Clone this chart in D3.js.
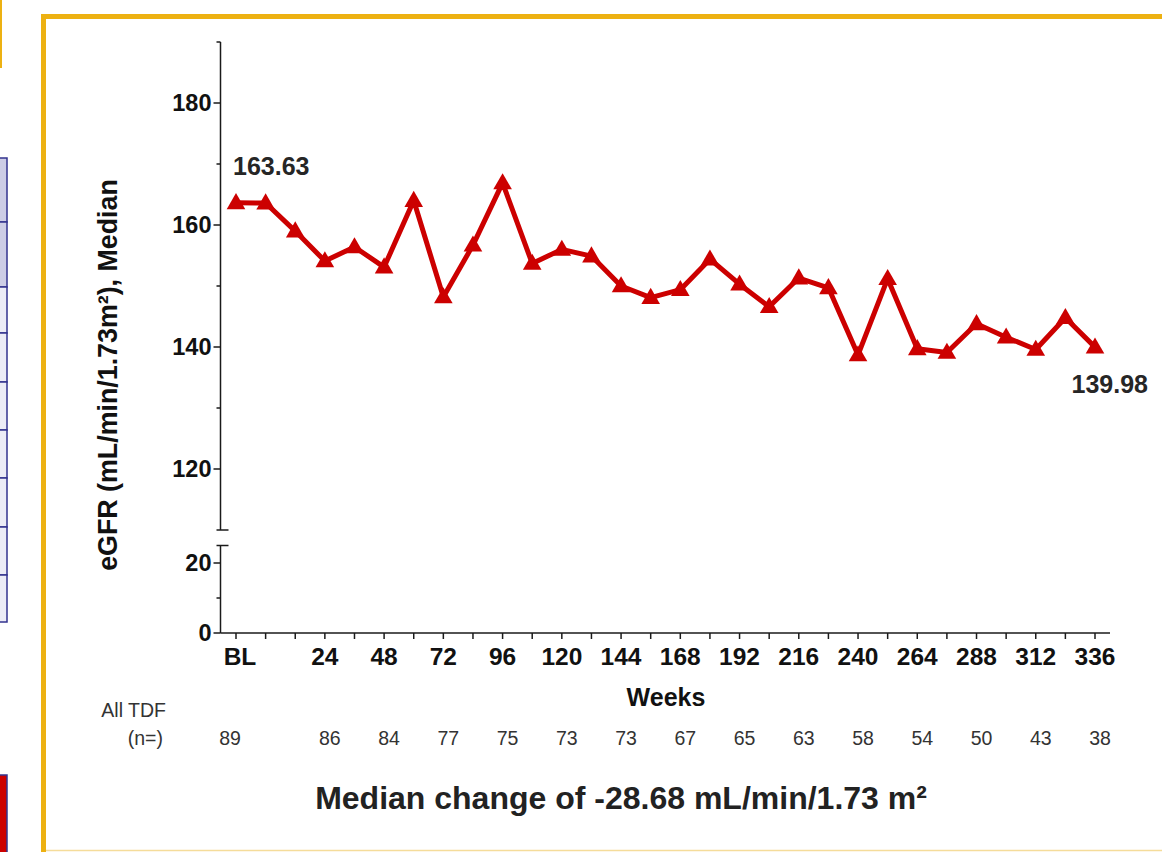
<!DOCTYPE html>
<html>
<head>
<meta charset="utf-8">
<script src="https://cdn.jsdelivr.net/npm/d3@7"></script>
<style>
  html, body { margin: 0; padding: 0; background: #ffffff; }
  svg { display: block; font-family: "Liberation Sans", Arial, Helvetica, sans-serif; }
</style>
</head>
<body>
<svg id="chart" width="1162" height="852"></svg>
<script>
// ---------------- data ----------------
const weeks = ["BL", "0", "12", "24", "36", "48", "60", "72", "84", "96", "108", "120", "132", "144", "156",
               "168", "180", "192", "204", "216", "228", "240", "252", "264", "276", "288", "300", "312", "324", "336"];
const egfrMedian = [163.63, 163.6, 159.0, 154.1, 156.4, 153.1, 164.0, 148.2, 156.7, 166.9, 153.7, 156.0, 154.9, 150.0, 148.1,
                    149.4, 154.4, 150.3, 146.6, 151.3, 149.7, 138.7, 151.2, 139.7, 139.1, 143.8, 141.6, 139.6, 144.8, 139.98];
const xTickLabels = ["BL", "24", "48", "72", "96", "120", "144", "168", "192", "216", "240", "264", "288", "312", "336"];
const nWeeks = ["BL", "24", "48", "72", "96", "120", "144", "168", "192", "216", "240", "264", "288", "312", "336"];
const nValues = [89, 86, 84, 77, 75, 73, 73, 67, 65, 63, 58, 54, 50, 43, 38];
const yTicksUpper = [120, 140, 160, 180];
const yMinorUpper = [130, 150, 170, 190];
const yTicksLower = [0, 20];
const yMinorLower = [10];

// ---------------- layout ----------------
const svg = d3.select("#chart");
const gold = "#EDB112";
const navy = "#33338F";
const red = "#CC0000";
const axisColor = "#1a1a1a";

// left decorations (cropped slide content)
svg.append("line").attr("x1", 1).attr("x2", 1).attr("y1", 0).attr("y2", 68)
  .attr("stroke", gold).attr("stroke-width", 2);
const rowEdges = [158, 222, 287, 333, 382, 430, 478, 527, 575, 622];
for (let i = 0; i < rowEdges.length - 1; i++) {
  svg.append("rect").attr("x", -2).attr("y", rowEdges[i]).attr("width", 9).attr("height", rowEdges[i + 1] - rowEdges[i])
    .attr("fill", i < 2 ? "#CDCDE6" : "#ECECF6").attr("stroke", navy).attr("stroke-width", 1.5);
}
svg.append("rect").attr("x", -2).attr("y", 775).attr("width", 9).attr("height", 90)
  .attr("fill", red).attr("stroke", navy).attr("stroke-width", 1.5);

// gold frame
svg.append("path").attr("d", "M43.5,852 V16.5 H1162").attr("fill", "none")
  .attr("stroke", gold).attr("stroke-width", 5);
svg.append("line").attr("x1", 46).attr("x2", 1162).attr("y1", 850.5).attr("y2", 850.5)
  .attr("stroke", "#F5DC9A").attr("stroke-width", 1.5);

// scales
const x = d3.scalePoint().domain(weeks).range([236, 1095]);
const yTop = d3.scaleLinear().domain([110, 190]).range([530, 42]);
const yBot = d3.scaleLinear().domain([0, 25]).range([633, 545.5]);
const axisX = 220.5;

const g = svg.append("g");

// y axis segments
g.append("line").attr("x1", axisX).attr("x2", axisX).attr("y1", yTop(190)).attr("y2", yTop(110))
  .attr("stroke", axisColor).attr("stroke-width", 1.5);
g.append("line").attr("x1", axisX).attr("x2", axisX).attr("y1", yBot(25)).attr("y2", yBot(0))
  .attr("stroke", axisColor).attr("stroke-width", 1.5);
// break marks
[yTop(110), yBot(25)].forEach(yy => {
  g.append("line").attr("x1", axisX - 4).attr("x2", axisX + 8).attr("y1", yy).attr("y2", yy)
    .attr("stroke", axisColor).attr("stroke-width", 1.5);
});

function yTicks(scale, majors, minors) {
  majors.forEach(v => {
    g.append("line").attr("x1", axisX - 7).attr("x2", axisX).attr("y1", scale(v)).attr("y2", scale(v))
      .attr("stroke", axisColor).attr("stroke-width", 1.5);
    g.append("text").attr("x", axisX - 9).attr("y", scale(v)).attr("dy", "0.36em")
      .attr("text-anchor", "end").attr("font-size", 23.5).attr("font-weight", "bold").attr("fill", "#111")
      .text(v);
  });
  minors.forEach(v => {
    g.append("line").attr("x1", axisX - 4).attr("x2", axisX).attr("y1", scale(v)).attr("y2", scale(v))
      .attr("stroke", axisColor).attr("stroke-width", 1.5);
  });
}
yTicks(yTop, yTicksUpper, yMinorUpper);
yTicks(yBot, yTicksLower, yMinorLower);

// x axis
const xAxisY = yBot(0);
g.append("line").attr("x1", axisX).attr("x2", 1110).attr("y1", xAxisY).attr("y2", xAxisY)
  .attr("stroke", axisColor).attr("stroke-width", 1.5);
weeks.forEach(w => {
  g.append("line").attr("x1", x(w)).attr("x2", x(w)).attr("y1", xAxisY).attr("y2", xAxisY + 6)
    .attr("stroke", axisColor).attr("stroke-width", 1.5);
});
xTickLabels.forEach(w => {
  g.append("text").attr("x", x(w) + (w === "BL" ? 4 : 0)).attr("y", xAxisY + 32)
    .attr("text-anchor", "middle").attr("font-size", 24.5).attr("font-weight", "bold").attr("fill", "#111")
    .text(w);
});

// axis titles
g.append("text").attr("x", 666).attr("y", 706).attr("text-anchor", "middle")
  .attr("font-size", 25).attr("font-weight", "bold").attr("fill", "#111").text("Weeks");
g.append("text").attr("transform", "translate(117,375) rotate(-90)").attr("text-anchor", "middle")
  .attr("font-size", 26.8).attr("font-weight", "bold").attr("fill", "#111").text("eGFR (mL/min/1.73m²), Median");

// line + markers
const line = d3.line().x((d, i) => x(weeks[i])).y(d => yTop(d));
g.append("path").datum(egfrMedian).attr("d", line).attr("fill", "none")
  .attr("stroke", red).attr("stroke-width", 5).attr("stroke-linejoin", "round");
g.selectAll("path.marker").data(egfrMedian).enter().append("path").attr("class", "marker")
  .attr("d", d3.symbol().type(d3.symbolTriangle).size(150))
  .attr("transform", (d, i) => `translate(${x(weeks[i])},${yTop(d) + 1})`)
  .attr("fill", red);

// value annotations
g.append("text").attr("x", 233).attr("y", 175).attr("font-size", 25).attr("font-weight", "bold")
  .attr("fill", "#262626").text(egfrMedian[0].toFixed(2));
g.append("text").attr("x", 1148).attr("y", 393).attr("text-anchor", "end").attr("font-size", 25).attr("font-weight", "bold")
  .attr("fill", "#262626").text(egfrMedian[egfrMedian.length - 1].toFixed(2));

// n row
g.append("text").attr("x", 166).attr("y", 717).attr("text-anchor", "end").attr("font-size", 19.5)
  .attr("fill", "#333").text("All TDF");
g.append("text").attr("x", 163).attr("y", 745).attr("text-anchor", "end").attr("font-size", 19.5)
  .attr("fill", "#333").text("(n=)");
nWeeks.forEach((w, i) => {
  g.append("text").attr("x", x(w) + (w === "BL" ? -6 : 5)).attr("y", 745).attr("text-anchor", "middle")
    .attr("font-size", 19.5).attr("fill", "#333").text(nValues[i]);
});

// bottom headline
g.append("text").attr("x", 621).attr("y", 809).attr("text-anchor", "middle")
  .attr("font-size", 32).attr("font-weight", "bold").attr("fill", "#222")
  .text("Median change of -28.68 mL/min/1.73 m²");
</script>
</body>
</html>
